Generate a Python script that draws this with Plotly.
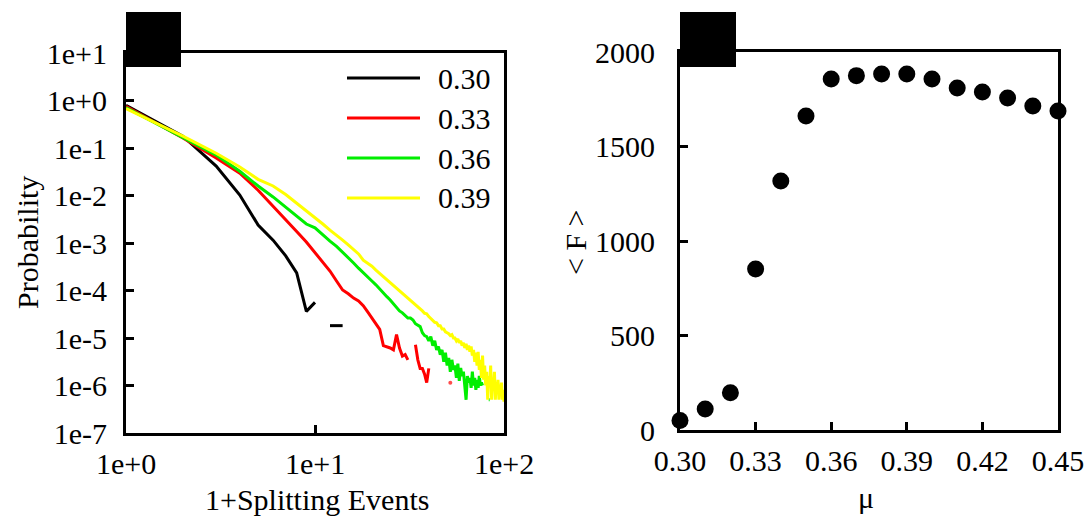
import plotly.graph_objects as go

W, H = 1092, 523

# ---------------- data ----------------
splitting_k = list(range(1, 101))          # 1 + splitting events
series_names = ["0.30", "0.33", "0.36", "0.39"]

# log10(probability) (None = zero probability / not drawn)
log10_p_030 = [-0.10, -0.75, -1.38, -1.99, -2.62, -2.94, -3.27, -3.63, -4.44, -4.25,
               None, -4.74, -4.74, -4.74]

log10_p_033 = [-0.12, -0.79, -1.21, -1.53, -1.89, -2.22, -2.50, -2.76, -2.98, -3.21,
               -3.40, -3.59, -3.80, -3.99, -4.07, -4.16, -4.22, -4.32, -4.45, -4.58,
               -4.70, -4.82, -5.16, -5.18, -5.21, -5.25, -4.93, -5.21, -5.38, -5.35,
               -5.46, None, None, -5.14, -5.46, -5.64, -5.64, -5.76, -5.94, -5.64,
               None, None, None, None, None, None, None, None, None, None,
               None, -5.94]

log10_p_036 = [-0.15, -0.77, -1.15, -1.49, -1.80, -2.03, -2.24, -2.43, -2.60, -2.68,
               -2.83, -2.96, -3.07, -3.19, -3.32, -3.42, -3.53, -3.63, -3.73, -3.80,
               -3.88, -3.97, -4.07, -4.13, -4.20, -4.28, -4.34, -4.43, -4.47, -4.53,
               -4.58, -4.58, -4.62, -4.70, -4.74, -4.76, -4.89, -4.95, -4.97, -5.06,
               -4.97, -5.16, -5.06, -5.25, -5.18, -5.35, -5.25, -5.50, -5.31, -5.58,
               -5.42, -5.71, -5.46, -5.67, -5.58, -5.84, -5.54, -5.90, -5.63, -5.80,
               -5.71, -6.00, -6.30, -5.80, -5.94, -5.84, -6.05, -5.71, -6.00, -5.84,
               -6.09, -5.88, -6.05, -5.80, -6.00, -5.94, -6.00, None, None, None,
               None, None, -6.30, -6.30]

log10_p_039 = [-0.17, -0.75, -1.11, -1.40, -1.66, -1.80, -1.98, -2.16, -2.33, -2.47,
               -2.60, -2.73, -2.83, -2.94, -3.04, -3.14, -3.23, -3.36, -3.42, -3.49,
               -3.57, -3.64, -3.71, -3.78, -3.84, -3.89, -3.95, -4.01, -4.05, -4.10,
               -4.16, -4.20, -4.25, -4.30, -4.34, -4.39, -4.43, -4.48, -4.49, -4.55,
               -4.59, -4.62, -4.67, -4.68, -4.74, -4.74, -4.81, -4.81, -4.87, -4.89,
               -4.91, -4.95, -4.93, -5.00, -5.00, -5.06, -5.02, -5.10, -5.06, -5.16,
               -5.10, -5.21, -5.12, -5.25, -5.16, -5.29, -5.18, -5.37, -5.25, -5.50,
               -5.31, -5.58, -5.29, -5.67, -5.46, -5.84, -5.37, -5.88, -5.58, -6.00,
               -5.71, -6.30, -5.80, -6.00, -5.58, -6.30, -5.84, -6.00, -5.71, -6.30,
               -5.94, -6.09, -5.88, -6.30, -6.00, -6.13, -5.94, -6.30, -6.09, -6.34]

mu_values = [0.30, 0.31, 0.32, 0.33, 0.34, 0.35, 0.36, 0.37, 0.38, 0.39,
             0.40, 0.41, 0.42, 0.43, 0.44, 0.45]
mean_F = [50, 111, 197, 852, 1317, 1661, 1857, 1875, 1884, 1884,
          1857, 1810, 1788, 1757, 1714, 1688]

left_y_tickvals = [1e1, 1e0, 1e-1, 1e-2, 1e-3, 1e-4, 1e-5, 1e-6, 1e-7]
left_y_ticktext = ["1e+1", "1e+0", "1e-1", "1e-2", "1e-3", "1e-4", "1e-5", "1e-6", "1e-7"]
left_x_tickvals = [1, 10, 100]
left_x_ticktext = ["1e+0", "1e+1", "1e+2"]
right_x_tickvals = [0.30, 0.33, 0.36, 0.39, 0.42, 0.45]
right_x_ticktext = ["0.30", "0.33", "0.36", "0.39", "0.42", "0.45"]
right_y_tickvals = [0, 500, 1000, 1500, 2000]

# ---------------- style ----------------
FONT = "'Liberation Serif', 'Times New Roman', 'DejaVu Serif', serif"
colors = ["#000000", "#ff0000", "#00ee00", "#ffff00"]


def to_prob(logs):
    vals = [None if v is None else 10 ** v for v in logs]
    return vals + [None] * (len(splitting_k) - len(vals))


def isolated_sizes(vals):
    # show a small dot only where a point has no drawn neighbour (a line can't show it)
    out = []
    for i, v in enumerate(vals):
        left = vals[i - 1] if i > 0 else None
        right = vals[i + 1] if i + 1 < len(vals) else None
        out.append(4 if (v is not None and left is None and right is None) else 0)
    return out


def px(x):
    return x / W


def py(y):
    return 1 - y / H


fig = go.Figure()
for name, logs, col in zip(series_names, [log10_p_030, log10_p_033, log10_p_036, log10_p_039], colors):
    yv = to_prob(logs)
    fig.add_trace(go.Scatter(x=splitting_k, y=yv, mode="lines+markers", name=name,
                             line=dict(color=col, width=3), connectgaps=False,
                             marker=dict(color=col, size=isolated_sizes(yv), line=dict(width=0)),
                             xaxis="x", yaxis="y", showlegend=False))

fig.add_trace(go.Scatter(x=mu_values, y=mean_F, mode="markers",
                         marker=dict(color="black", size=17), cliponaxis=False,
                         xaxis="x2", yaxis="y2", showlegend=False))

axis_common = dict(showline=True, linewidth=3, linecolor="black", mirror=True,
                   ticks="inside", ticklen=8, tickwidth=3, tickcolor="black",
                   showgrid=False, zeroline=False, automargin=False,
                   tickfont=dict(family=FONT, size=30, color="black"))

fig.update_layout(
    width=W, height=H,
    margin=dict(l=0, r=0, t=0, b=0),
    paper_bgcolor="white", plot_bgcolor="white",
    font=dict(family=FONT, size=30, color="black"),
    xaxis=dict(type="log", range=[0, 2], domain=[px(126), px(504)], anchor="y",
               tickvals=left_x_tickvals, ticktext=left_x_ticktext,
               ticklabelstandoff=2, **axis_common),
    yaxis=dict(type="log", range=[-7, 1], domain=[py(433), py(53)], anchor="x",
               tickvals=left_y_tickvals, ticktext=left_y_ticktext,
               ticklabelstandoff=10, **axis_common),
    xaxis2=dict(range=[0.30, 0.45], domain=[px(680), px(1058)], anchor="y2",
                tickvals=right_x_tickvals, ticktext=right_x_ticktext,
                ticklabelstandoff=2, **axis_common),
    yaxis2=dict(range=[0, 2000], domain=[py(430), py(52)], anchor="x2",
                tickvals=right_y_tickvals, ticklabelstandoff=16, **axis_common),
    showlegend=False,
)

shapes = [
    dict(type="rect", xref="paper", yref="paper", x0=px(126), x1=px(181), y0=py(67), y1=py(12),
         fillcolor="black", line=dict(width=0), layer="above"),
    dict(type="rect", xref="paper", yref="paper", x0=px(680), x1=px(736), y0=py(67), y1=py(12),
         fillcolor="black", line=dict(width=0), layer="above"),
]
title_font = dict(family=FONT, size=30, color="black")
annotations = [
    dict(text="Probability", x=px(27), y=py(243), xref="paper", yref="paper", textangle=-90,
         xanchor="center", yanchor="middle", showarrow=False, font=title_font),
    dict(text="1+Splitting Events", x=px(317), y=py(499), xref="paper", yref="paper",
         xanchor="center", yanchor="middle", showarrow=False, font=title_font),
    dict(text="< F >", x=px(575), y=py(242), xref="paper", yref="paper", textangle=-90,
         xanchor="center", yanchor="middle", showarrow=False, font=title_font),
    dict(text="μ", x=px(866), y=py(497), xref="paper", yref="paper",
         xanchor="center", yanchor="middle", showarrow=False, font=title_font),
]

legend_rows = [78, 118, 158, 198]
for name, col, yy in zip(series_names, colors, legend_rows):
    shapes.append(dict(type="line", xref="paper", yref="paper", x0=px(347), x1=px(420),
                       y0=py(yy), y1=py(yy), line=dict(color=col, width=3)))
    annotations.append(dict(text=name, x=px(436), y=py(yy), xref="paper", yref="paper",
                            xanchor="left", yanchor="middle", showarrow=False, font=title_font))

fig.update_layout(shapes=shapes, annotations=annotations)
fig.write_html("out.html")
